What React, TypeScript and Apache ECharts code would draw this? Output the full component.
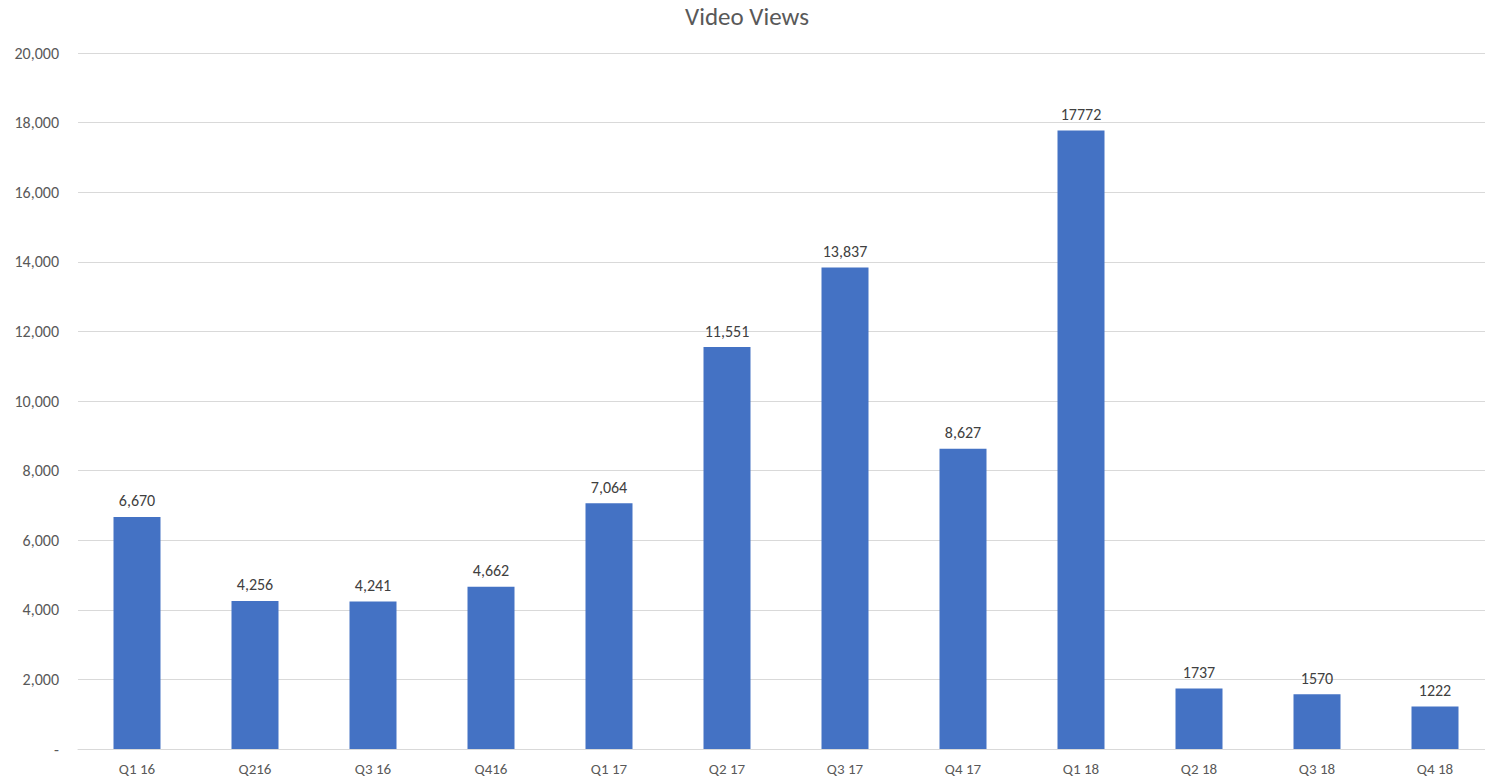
import React, { useEffect, useRef } from "react";
import * as echarts from "echarts";

const categories = ["Q1 16", "Q216", "Q3 16", "Q416", "Q1 17", "Q2 17", "Q3 17", "Q4 17", "Q1 18", "Q2 18", "Q3 18", "Q4 18"];
const views = [6670, 4256, 4241, 4662, 7064, 11551, 13837, 8627, 17772, 1737, 1570, 1222];
const viewLabels = ["6,670", "4,256", "4,241", "4,662", "7,064", "11,551", "13,837", "8,627", "17772", "1737", "1570", "1222"];

const FONT = "Carlito, Lato, 'Noto Sans', sans-serif";

export default function App() {
  const ref = useRef<HTMLDivElement>(null);
  useEffect(() => {
    document.body.style.margin = "0";
    document.body.style.overflow = "hidden";
    const chart = echarts.init(ref.current!, null, { renderer: "svg" });
    chart.setOption({
      animation: false,
      backgroundColor: "#ffffff",
      title: {
        text: "Video Views",
        left: 742,
        textAlign: "center",
        top: -1,
        textStyle: { fontFamily: FONT, fontSize: 25, fontWeight: "normal", color: "#595959" },
      },
      grid: { left: 78, right: 0, top: 53, bottom: 34, containLabel: false },
      xAxis: {
        type: "category",
        data: categories,
        axisLine: { lineStyle: { color: "#d9d9d9" } },
        axisTick: { show: false },
        axisLabel: { color: "#595959", fontFamily: FONT, fontSize: 15, margin: 12 },
      },
      yAxis: {
        type: "value",
        min: 0,
        max: 20000,
        interval: 2000,
        axisLine: { show: false },
        axisTick: { show: false },
        splitLine: { lineStyle: { color: "#d9d9d9" } },
        axisLabel: {
          color: "#595959",
          fontFamily: FONT,
          fontSize: 16,
          margin: 19,
          formatter: (v: number) => (v === 0 ? "-" : v.toLocaleString("en-US")),
        },
      },
      series: [
        {
          type: "bar",
          data: views,
          barWidth: 47,
          itemStyle: { color: "#4472C4" },
          label: {
            show: true,
            position: "top",
            distance: 8,
            color: "#404040",
            fontFamily: FONT,
            fontSize: 16,
            formatter: (p: any) => viewLabels[p.dataIndex],
          },
        },
      ],
    });
    return () => chart.dispose();
  }, []);
  return <div ref={ref} style={{ width: 1494, height: 783 }} />;
}
